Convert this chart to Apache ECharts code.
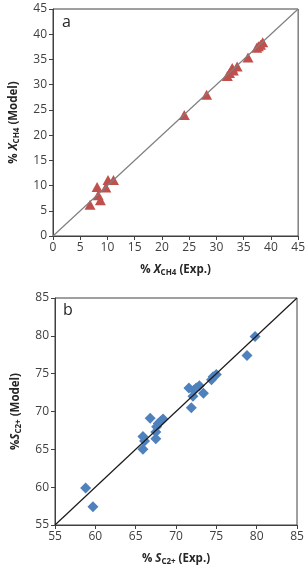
<!DOCTYPE html>
<html>
<head>
<meta charset="utf-8">
<script src="https://cdn.jsdelivr.net/npm/echarts@6/dist/echarts.min.js"></script>
<style>
html, body { margin: 0; padding: 0; background: #fff; }
#chart { width: 308px; height: 570px; }
</style>
</head>
<body>
<div id="chart"></div>
<script>
// panel a: methane conversion
var aExp = [6.8, 8.1, 8.3, 8.7, 9.7, 10.1, 11.1, 24.1, 28.2, 32.0, 32.4, 32.9, 33.1, 33.8, 35.8, 37.4, 37.7, 38.1, 38.5];
var aModel = [6.2, 9.7, 8.1, 7.1, 9.6, 11.1, 11.1, 24.0, 28.0, 31.7, 32.3, 33.3, 32.8, 33.6, 35.4, 37.3, 37.6, 37.9, 38.4];
var aParity = [0, 45];

// panel b: C2+ selectivity
var bExp = [58.8, 59.7, 65.9, 66.1, 65.9, 66.8, 67.5, 67.5, 67.6, 67.8, 68.1, 68.4, 71.9, 71.6, 72.1, 72.2, 72.5, 72.9, 73.4, 74.4, 74.6, 75.0, 78.8, 79.8];
var bModel = [59.9, 57.4, 66.7, 66.1, 65.0, 69.1, 66.4, 67.3, 68.0, 68.4, 68.7, 69.0, 70.5, 73.1, 72.0, 72.8, 73.1, 73.4, 72.4, 74.2, 74.6, 74.9, 77.4, 79.9];
var bParity = [55, 85];

function pairs(xs, ys) {
	var out = [];
	for (var i = 0; i < xs.length; i++) out.push([xs[i], ys[i]]);
	return out;
}

var font = 'Open Sans';
var rich = {
	n: { fontFamily: font, fontWeight: 'bold', fontSize: 11.5, color: '#262626' },
	i: { fontFamily: font, fontWeight: 'bold', fontStyle: 'italic', fontSize: 11.5, color: '#262626' },
	s: { fontFamily: font, fontWeight: 'bold', fontSize: 8, color: '#262626', padding: [6, 0, 0, 0] }
};

function axis(idx, min, max, name, gap, rot) {
	return {
		type: 'value', gridIndex: idx, min: min, max: max, interval: 5,
		name: name, nameLocation: 'middle', nameGap: gap, nameRotate: rot,
		nameTextStyle: { rich: rich },
		axisLine: { show: true, onZero: false, lineStyle: { color: '#404040', width: 1 } },
		axisTick: { show: true, inside: false, length: 4, lineStyle: { color: '#404040' } },
		axisLabel: { fontFamily: font, fontSize: 12, color: '#404040', margin: 6 },
		splitLine: { show: false }
	};
}

var chart = echarts.init(document.getElementById('chart'));
chart.setOption({
	animation: false,
	grid: [
		{ left: 53, top: 9, width: 247, height: 227, show: true, borderColor: '#404040', borderWidth: 1 },
		{ left: 55, top: 298, width: 242, height: 227, show: true, borderColor: '#404040', borderWidth: 1 }
	],
	xAxis: [
		axis(0, 0, 45, '{n|% }{i|X}{s|CH4}{n| (Exp.)}', 27, 0),
		axis(1, 55, 85, '{n|% }{i|S}{s|C2+}{n| (Exp.)}', 27, 0)
	],
	yAxis: [
		axis(0, 0, 45, '{n|% }{i|X}{s|CH4}{n| (Model)}', 32, 90),
		axis(1, 55, 85, '{n|%}{i|S}{s|C2+}{n| (Model)}', 32, 90)
	],
	graphic: [
		{ type: 'text', left: 62, top: 14, style: { text: 'a', font: '16px Open Sans', fill: '#262626' } },
		{ type: 'text', left: 63, top: 302, style: { text: 'b', font: '16px Open Sans', fill: '#262626' } }
	],
	series: [
		{
			type: 'line', xAxisIndex: 0, yAxisIndex: 0, symbol: 'none', silent: true,
			data: pairs(aParity, aParity), lineStyle: { color: '#7f7f7f', width: 1.2 }
		},
		{
			type: 'scatter', xAxisIndex: 0, yAxisIndex: 0, symbol: 'triangle', symbolSize: [11, 10],
			data: pairs(aExp, aModel), itemStyle: { color: '#c0504d', opacity: 1 }
		},
		{
			type: 'line', xAxisIndex: 1, yAxisIndex: 1, symbol: 'none', silent: true,
			data: pairs(bParity, bParity), lineStyle: { color: '#1a1a1a', width: 1.2 }
		},
		{
			type: 'scatter', xAxisIndex: 1, yAxisIndex: 1, symbol: 'diamond', symbolSize: [11, 11],
			data: pairs(bExp, bModel), itemStyle: { color: '#4f81bd', opacity: 1 }
		}
	]
});
</script>
</body>
</html>
